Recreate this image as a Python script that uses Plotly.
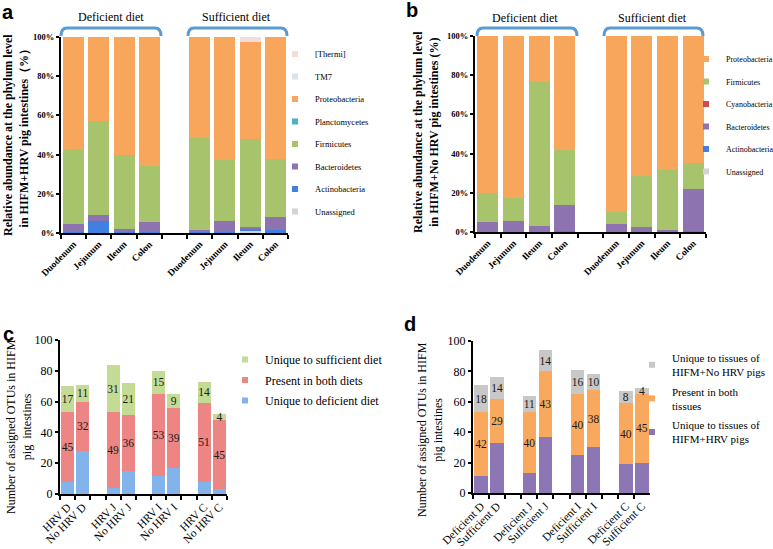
import plotly.graph_objects as go

W, H = 773, 549

# ---------- data ----------
# panel a / b: phylum level relative abundance (%)
cats_ab = ["D-Duo", "D-Jej", "D-Ile", "D-Col", "gap", "S-Duo", "S-Jej", "S-Ile", "S-Col"]
labels_ab = ["Duodenum", "Jejunum", "Ileum", "Colon", "", "Duodenum", "Jejunum", "Ileum", "Colon"]
bar_cats_ab = ["D-Duo", "D-Jej", "D-Ile", "D-Col", "S-Duo", "S-Jej", "S-Ile", "S-Col"]
pct_ticks = [0, 20, 40, 60, 80, 100]

a_unassigned = [0.3, 0.2, 0.5, 0.2, 0.3, 0.2, 1.5, 0.3]
a_actino = [0.2, 5.8, 0.5, 0.2, 0.2, 0.2, 0.3, 1.0]
a_bactero = [4.3, 3.4, 1.0, 5.4, 1.2, 5.6, 1.4, 6.7]
a_firmi = [38.2, 47.6, 37.6, 28.2, 46.8, 31.4, 44.8, 30.0]
a_plancto = [0.0, 0.0, 0.0, 0.0, 0.0, 0.0, 0.0, 0.0]
a_proteo = [57.0, 43.0, 60.4, 66.0, 51.5, 62.6, 49.6, 62.0]
a_tm7 = [0.0, 0.0, 0.0, 0.0, 0.0, 0.0, 0.2, 0.0]
a_thermi = [0.0, 0.0, 0.0, 0.0, 0.0, 0.0, 2.2, 0.0]

b_unassigned = [0.0, 0.0, 0.0, 0.0, 0.0, 0.0, 0.0, 0.0]
b_actino = [0.0, 0.0, 0.0, 0.4, 0.0, 0.0, 0.0, 0.5]
b_bactero = [4.9, 5.4, 2.9, 13.2, 4.0, 2.7, 1.2, 21.5]
b_cyano = [0.0, 0.0, 0.0, 0.0, 0.0, 0.0, 0.0, 0.0]
b_firmi = [15.0, 11.7, 73.8, 28.3, 6.4, 26.0, 30.2, 13.1]
b_proteo = [80.1, 82.9, 23.3, 58.1, 89.6, 71.3, 68.6, 64.9]

# panel c: OTUs by diet
cats_c = ["HRV D", "No HRV D", "g1", "HRV J", "No HRV J", "g2",
          "HRV I", "No HRV I", "g3", "HRV C", "No HRV C"]
bar_cats_c = ["HRV D", "No HRV D", "HRV J", "No HRV J", "HRV I", "No HRV I", "HRV C", "No HRV C"]
c_def = [8, 28, 4, 15, 12, 17, 8, 3]
c_both = [45, 32, 49, 36, 53, 39, 51, 45]
c_suff = [17, 11, 31, 21, 15, 9, 14, 4]

# panel d: OTUs by HRV status
cats_d = ["Deficient D", "Sufficient D", "g1", "Deficient J", "Sufficient J", "g2",
          "Deficient I", "Sufficient I", "g3", "Deficient C", "Sufficient C"]
bar_cats_d = ["Deficient D", "Sufficient D", "Deficient J", "Sufficient J",
              "Deficient I", "Sufficient I", "Deficient C", "Sufficient C"]
d_hrv = [11, 33, 13, 37, 25, 30, 19, 20]
d_both = [42, 29, 40, 43, 40, 38, 40, 45]
d_nohrv = [18, 14, 11, 14, 16, 10, 8, 4]

SERIF = "Liberation Serif"
C_PROTEO = "#F7A65C"
C_FIRMI = "#A7C46C"
C_BACT = "#8D73B0"
C_ACT = "#3F80E0"


def px_x(v):
    return v / W


def px_y(v):
    return 1 - v / H


fig = go.Figure()
rank = [1000]


def add_stack(xa, ya, cats, name, vals, color, legend, text=False, width=0.83):
    fig.add_trace(go.Bar(
        x=cats, y=vals, name=name, marker=dict(color=color, line=dict(width=0)),
        xaxis=xa, yaxis=ya, showlegend=False, width=width,
        text=[str(v) for v in vals] if text else None,
        textposition="inside" if text else "none", insidetextanchor="middle",
        constraintext="none", textangle=0,
        textfont=dict(family=SERIF, size=11.5, color="#1a1a1a"),
        hoverinfo="skip"))
    # legend entry with a small square marker; top of stack is listed first
    rank[0] -= 1
    fig.add_trace(go.Scatter(
        x=[None], y=[None], mode="markers", name=name, legend=legend, legendgroup=legend + name,
        legendrank=rank[0], marker=dict(symbol="square", size=6, color=color),
        xaxis=xa, yaxis=ya, showlegend=True))


# panel a
for name, vals, col in [("Unassigned", a_unassigned, "#D3D3D3"),
                        ("Actinobacteria", a_actino, C_ACT),
                        ("Bacteroidetes", a_bactero, C_BACT),
                        ("Firmicutes", a_firmi, C_FIRMI),
                        ("Planctomycetes", a_plancto, "#4BB0C8"),
                        ("Proteobacteria", a_proteo, C_PROTEO),
                        ("TM7", a_tm7, "#D8E4EA"),
                        ("[Thermi]", a_thermi, "#F3DCDA")]:
    add_stack("x", "y", bar_cats_ab, name, vals, col, "legend")

# panel b
for name, vals, col in [("Unassigned", b_unassigned, "#D3D3D3"),
                        ("Actinobacteria", b_actino, C_ACT),
                        ("Bacteroidetes", b_bactero, C_BACT),
                        ("Cyanobacteria", b_cyano, "#C9504D"),
                        ("Firmicutes", b_firmi, C_FIRMI),
                        ("Proteobacteria", b_proteo, C_PROTEO)]:
    add_stack("x2", "y2", bar_cats_ab, name, vals, col, "legend2")

# panel c
for name, vals, col in [("Unique to deficient diet", c_def, "#82B3EA"),
                        ("Present in both diets", c_both, "#EC8583"),
                        ("Unique to sufficient diet", c_suff, "#C3DB95")]:
    add_stack("x3", "y3", bar_cats_c, name, vals, col, "legend3",
              text=(name != "Unique to deficient diet"), width=0.86)

# panel d
for name, vals, col in [("Unique to tissues of<br>HIFM+HRV pigs", d_hrv, "#8C76B4"),
                        ("Present in both<br>tissues", d_both, "#F8A95E"),
                        ("Unique to tissues of<br>HIFM+No HRV pigs", d_nohrv, "#C8C8C8")]:
    add_stack("x4", "y4", bar_cats_d, name, vals, col, "legend4",
              text=(name.startswith("Present") or "No HRV" in name), width=0.83)

axis_line = dict(showline=True, linecolor="black", linewidth=2, mirror=False, zeroline=False,
                 showgrid=False, ticks="outside", tickcolor="black", ticklen=4, tickwidth=1.5,
                 automargin=False, fixedrange=True)

xab = dict(axis_line, type="category", categoryorder="array", categoryarray=cats_ab,
           tickvals=cats_ab, ticktext=["<b>%s</b>" % t for t in labels_ab], tickangle=-45,
           tickson="boundaries", tickfont=dict(family=SERIF, size=9.5, color="black"),
           range=[-0.5, 8.5])
yab = dict(axis_line, range=[0, 100], tickvals=pct_ticks,
           ticktext=["<b>%d%%</b>" % v for v in pct_ticks],
           tickfont=dict(family=SERIF, size=8.5, color="black"), ticklen=3)

xcd_common = dict(axis_line, type="category", categoryorder="array", tickangle=-45,
                  tickson="boundaries", tickfont=dict(family=SERIF, size=11.5, color="black"),
                  range=[-0.5, 10.5])
ycd = dict(axis_line, range=[0, 100], tickvals=pct_ticks,
           tickfont=dict(family=SERIF, size=12, color="black"), ticklen=3)


def leg(x, y, size, gap):
    return dict(x=px_x(x), y=px_y(y), xanchor="left", yanchor="top",
                traceorder="grouped",
                font=dict(family=SERIF, size=size, color="black"), tracegroupgap=gap,
                itemwidth=30, bgcolor="rgba(0,0,0,0)")


fig.update_layout(
    width=W, height=H, margin=dict(l=0, r=0, t=0, b=0, autoexpand=False),
    paper_bgcolor="white", plot_bgcolor="white", barmode="stack",
    font=dict(family=SERIF, color="black"),
    xaxis=dict(xab, domain=[px_x(61), px_x(288)], anchor="y"),
    yaxis=dict(yab, domain=[px_y(233), px_y(37)], anchor="x"),
    xaxis2=dict(xab, domain=[px_x(475), px_x(706)], anchor="y2"),
    yaxis2=dict(yab, domain=[px_y(232), px_y(36)], anchor="x2"),
    xaxis3=dict(xcd_common, categoryarray=cats_c, tickvals=cats_c,
                ticktext=[c if not c.startswith("g") else "" for c in cats_c],
                domain=[px_x(60), px_x(227)], anchor="y3"),
    yaxis3=dict(ycd, domain=[px_y(494), px_y(340)], anchor="x3"),
    xaxis4=dict(xcd_common, categoryarray=cats_d, tickvals=cats_d,
                ticktext=[c if not c.startswith("g") else "" for c in cats_d],
                domain=[px_x(473), px_x(650)], anchor="y4"),
    yaxis4=dict(ycd, domain=[px_y(493), px_y(341)], anchor="x4"),
    legend=leg(275, 39.5, 8.5, 3.5),
    legend2=leg(686, 44.5, 8, 3.5),
    legend3=leg(225, 345, 12, 1.5),
    legend4=leg(632, 344, 11, 2),
)

# diet brackets above panels a and b
BR = "#5B9BD5"
for x0, x1 in [(61, 161), (188, 287), (477, 577), (604, 703)]:
    ya, yb = 28, 36
    r = 6
    path = (f"M {px_x(x0)},{px_y(yb)} Q {px_x(x0)},{px_y(ya)} {px_x(x0 + r)},{px_y(ya)} "
            f"L {px_x(x1 - r)},{px_y(ya)} Q {px_x(x1)},{px_y(ya)} {px_x(x1)},{px_y(yb)}")
    fig.add_shape(type="path", path=path, xref="paper", yref="paper",
                  line=dict(color=BR, width=3))


def note(text, x, y, size, angle=0, family=SERIF):
    fig.add_annotation(text=text, x=px_x(x), y=px_y(y), xref="paper", yref="paper",
                       xanchor="center", yanchor="middle", showarrow=False, textangle=angle,
                       font=dict(family=family, size=size, color="black"))


for txt, x, y in [("Deficient diet", 111, 17), ("Sufficient diet", 236, 17),
                  ("Deficient diet", 525, 18), ("Sufficient diet", 652, 18)]:
    note(txt, x, y, 12)

# y-axis titles
note("<b>Relative abundance at the phylum level<br>in HIFM+HRV pig intestines（%）</b>", 16, 135, 12, -90)
note("<b>Relative abundance at the phylum level<br>in HIFM+No HRV pig intestines (%)</b>", 426, 132, 12, -90)
note("Number of assigned OTUs in HIFM<br>pig  intestines", 19, 427, 12, -90)
note("Number of assigned OTUs in HIFM<br>pig intestines", 430, 430, 12, -90)

# panel letters
for letter, x, y in [("a", 8, 12), ("b", 412, 10), ("c", 8, 334), ("d", 410, 324)]:
    note("<b>%s</b>" % letter, x, y, 20, family="Liberation Sans")

fig.write_html("out.html", config={"displayModeBar": False},
               post_script="document.body.style.margin='0px';")
